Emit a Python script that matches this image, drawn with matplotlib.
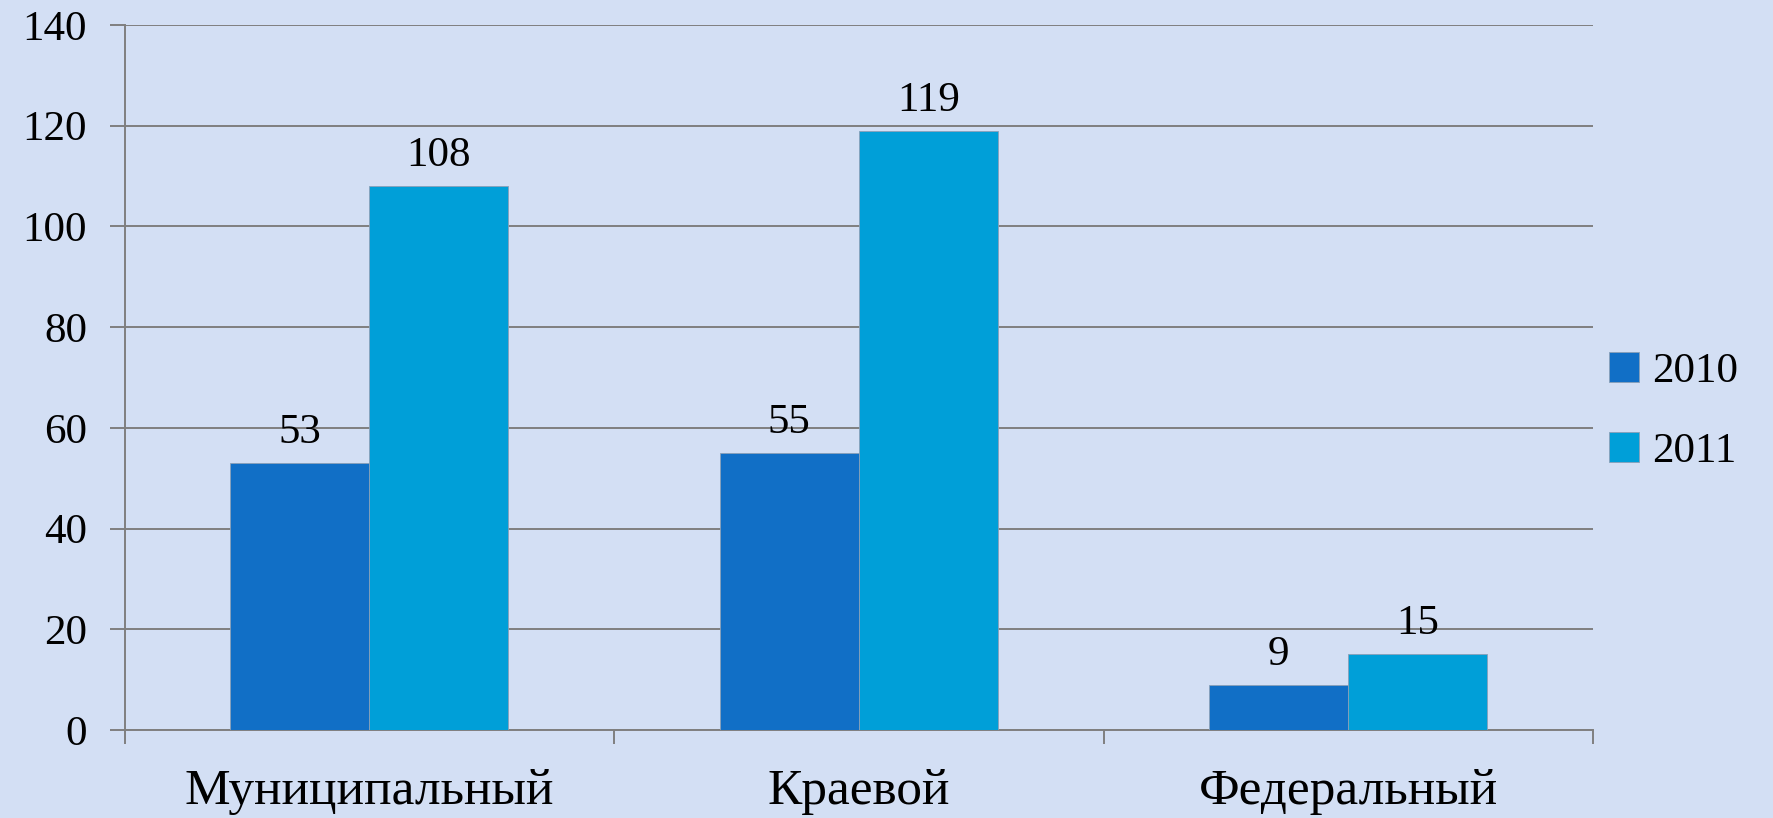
import matplotlib
matplotlib.use("Agg")
import matplotlib.pyplot as plt
import numpy as np

categories = ["Муниципальный", "Краевой", "Федеральный"]
series_names = ["2010", "2011"]
values_2010 = [53, 55, 9]
values_2011 = [108, 119, 15]
y_ticks = [0, 20, 40, 60, 80, 100, 120, 140]

colors = ["#116fc6", "#009fd8"]
grid_color = "#7f7f7f"
bg_color = "#d3dff4"

plt.rcParams["font.family"] = ["Liberation Serif", "DejaVu Serif"]

fig = plt.figure(figsize=(17.74, 8.18), dpi=100)
fig.patch.set_facecolor(bg_color)
ax = fig.add_axes([0.0702, 0.1076, 0.898 - 0.0702, 0.9694 - 0.1076])
ax.set_facecolor("none")

x = np.arange(len(categories))
width = 0.284
bars = []
for i, (vals, name) in enumerate(zip([values_2010, values_2011], series_names)):
    b = ax.bar(x + (i - 0.5) * width, vals, width, color=colors[i], label=name,
               edgecolor="#8aa0b8", linewidth=0.6, zorder=3)
    bars.append(b)
    for rect, v in zip(b, vals):
        ax.text(rect.get_x() + rect.get_width() / 2, v + 2.2, str(v),
                ha="center", va="bottom", fontsize=31, color="black", zorder=4)

ax.set_xlim(-0.5, len(categories) - 0.5)
ax.set_ylim(0, 140)
ax.set_yticks(y_ticks)
ax.set_yticklabels([str(t) for t in y_ticks], fontsize=31)
ax.yaxis.grid(True, color=grid_color, linewidth=1.4, zorder=0)
ax.tick_params(axis="y", length=11, width=1.4, color=grid_color, pad=16)

ax.set_xticks(np.arange(-0.5, len(categories)))
ax.set_xticklabels([])
ax.set_xticks(x, minor=True)
ax.set_xticklabels(categories, minor=True, fontsize=37)
ax.tick_params(axis="x", which="major", length=10, width=1.4, color=grid_color, direction="out")
ax.tick_params(axis="x", which="minor", length=0, pad=28)

for side in ["top", "right"]:
    ax.spines[side].set_visible(False)
for side in ["left", "bottom"]:
    ax.spines[side].set_color(grid_color)
    ax.spines[side].set_linewidth(1.4)

leg = fig.legend(handles=bars, labels=series_names, loc="center left",
                 bbox_to_anchor=(0.885, 0.497), frameon=False, fontsize=31,
                 handlelength=0.7, handleheight=0.7, handletextpad=0.3,
                 labelspacing=0.95)

fig.savefig("out.png", dpi=100, facecolor=bg_color)
